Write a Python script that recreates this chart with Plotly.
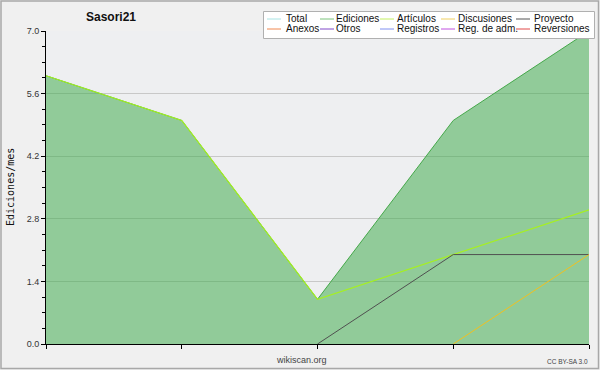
import plotly.graph_objects as go

months = [0, 1, 2, 3, 4]
ediciones = [6, 5, 1, 5, 7]
articulos = [6, 5, 1, 2, 3]
proyecto = [None, None, 0, 2, 2]
discusiones = [None, None, None, 0, 2]

legend_names = ["Total", "Ediciones", "Artículos", "Discusiones", "Proyecto",
                "Anexos", "Otros", "Registros", "Reg. de adm.", "Reversiones"]
legend_colors = ["#a8e4e4", "#7cc47c", "#c4f060", "#f0d060", "#555555",
                 "#f08850", "#8048c8", "#8090f0", "#c050e0", "#e04848"]

FONT = "Liberation Sans, Arial, sans-serif"
MONO = "DejaVu Sans Mono, monospace"

fig = go.Figure()
fig.add_trace(go.Scatter(x=months, y=ediciones, mode="lines", fill="tozeroy",
                         fillcolor="rgba(60,170,72,0.52)",
                         line=dict(color="#45a84a", width=1), showlegend=False))
fig.add_trace(go.Scatter(x=months, y=articulos, mode="lines",
                         line=dict(color="#a6f020", width=1.2), showlegend=False))
fig.add_trace(go.Scatter(x=months, y=proyecto, mode="lines",
                         line=dict(color="#505050", width=1), showlegend=False))
fig.add_trace(go.Scatter(x=months, y=discusiones, mode="lines",
                         line=dict(color="#f0c020", width=1), showlegend=False))

W, H = 600, 370
L, R, T, B = 46, 11, 31, 26
PW, PH = W - L - R, H - T - B


def xd(p):
    return (p - L) / PW


def yd(p):
    return (H - B - p) / PH


shapes = []
annotations = []
# outer border
shapes.append(dict(type="rect", xref="x domain", yref="y domain",
                   x0=xd(1), x1=xd(598.5), y0=yd(368.5), y1=yd(1),
                   line=dict(color="#a8a8a8", width=1.5), layer="below"))
# legend box
shapes.append(dict(type="rect", xref="x domain", yref="y domain",
                   x0=xd(263.5), x1=xd(594.5), y0=yd(38.5), y1=yd(11.5),
                   fillcolor="white", line=dict(color="#b0b0b0", width=1)))
col_line = [267, 320, 380, 441, 516]
col_text = [285, 335, 396, 457, 533]
row_y = [19, 29]
for i, (name, color) in enumerate(zip(legend_names, legend_colors)):
    r, c = divmod(i, 5)
    y = row_y[r]
    shapes.append(dict(type="line", xref="x domain", yref="y domain",
                       x0=xd(col_line[c]), x1=xd(col_line[c] + 14),
                       y0=yd(y), y1=yd(y), line=dict(color=color, width=1)))
    annotations.append(dict(text=name, xref="x domain", yref="y domain",
                            x=xd(col_text[c] - 1), y=yd(y), xanchor="left",
                            yanchor="middle", showarrow=False,
                            font=dict(family=FONT, size=10, color="#111")))

annotations.append(dict(text="<b>Sasori21</b>", xref="x domain", yref="y domain",
                        x=xd(111), y=yd(17), xanchor="center", yanchor="middle",
                        showarrow=False, font=dict(family=FONT, size=12, color="#111")))
annotations.append(dict(text="wikiscan.org", xref="x domain", yref="y domain",
                        x=xd(301), y=yd(360), xanchor="center", yanchor="middle",
                        showarrow=False, font=dict(family=FONT, size=9, color="#444")))
annotations.append(dict(text="CC BY-SA 3.0", xref="x domain", yref="y domain",
                        x=xd(590), y=yd(361), xanchor="right", yanchor="middle",
                        showarrow=False, font=dict(family=FONT, size=6.5, color="#444")))
annotations.append(dict(text="Ediciones/mes", xref="x domain", yref="y domain",
                        x=xd(10), y=yd(187), xanchor="center", yanchor="middle",
                        textangle=-90, showarrow=False,
                        font=dict(family=MONO, size=10, color="#111")))

fig.update_layout(
    width=W, height=H,
    margin=dict(l=L, r=R, t=T, b=B),
    paper_bgcolor="#f0f0f0",
    plot_bgcolor="#eeeff1",
    showlegend=False,
    shapes=shapes,
    annotations=annotations,
    font=dict(family=FONT, size=9, color="#333"),
)
fig.update_xaxes(range=[0, 4], showgrid=False, zeroline=False,
                 showline=True, linecolor="black", linewidth=1,
                 ticks="outside", ticklen=4, tickcolor="black",
                 tickvals=months, showticklabels=False)
fig.update_yaxes(range=[0, 7], dtick=1.4, tick0=0, tickformat=".1f",
                 showgrid=True, gridcolor="#c8c8c8", gridwidth=1,
                 zeroline=False, showline=True, linecolor="black", linewidth=1,
                 ticks="outside", ticklen=4, tickcolor="black",
                 minor=dict(dtick=0.35, tick0=0, ticks="outside", ticklen=3,
                            tickcolor="black", showgrid=False),
                 tickfont=dict(family=FONT, size=9, color="#333"))

fig.write_html("out.html", config={"displayModeBar": False},
               post_script="document.body.style.margin='0';document.body.style.overflow='hidden';")
